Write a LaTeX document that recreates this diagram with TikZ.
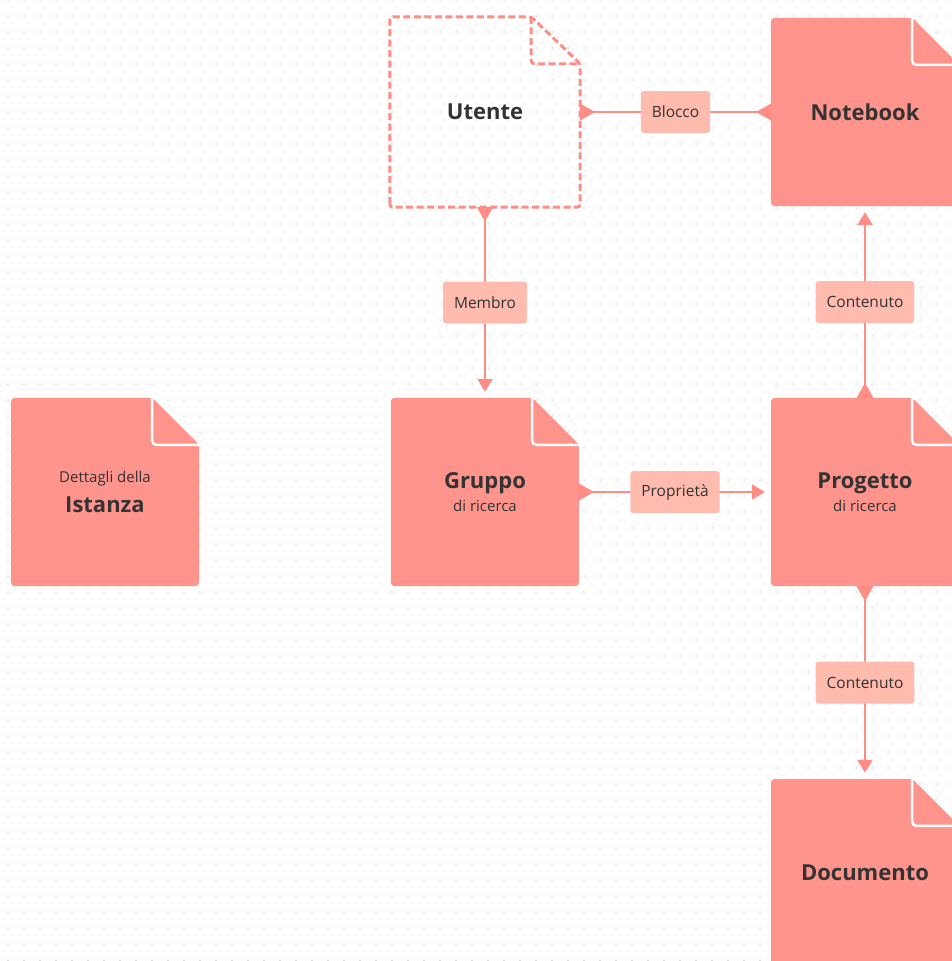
\documentclass[tikz,border=0pt]{standalone}
\usepackage{fontspec}
\setmainfont{Open Sans}
\usetikzlibrary{arrows.meta,calc,backgrounds}

\definecolor{docred}{HTML}{FF948D}
\definecolor{edgered}{HTML}{FF8C85}
\definecolor{lblfill}{HTML}{FFBBAD}
\definecolor{ink}{HTML}{333333}
\definecolor{griddot}{HTML}{CFCFCF}

% text helpers for the page nodes
\newcommand\doctitle[1]{{\bfseries\fontsize{22}{27}\selectfont #1}}
\newcommand\docsub[1]{{\fontsize{15}{17}\selectfont #1}}

% filled page with a folded top-right corner, drawn behind node #1
\newcommand\docpage[1]{%
  \fill[docred, rounded corners=4pt]
    (#1.south west) -- (#1.north west) -- ($(#1.north east)+(-47,0)$)
    -- ($(#1.north east)+(0,47)$) -- (#1.south east) -- cycle;
  \fill[docred, rounded corners=3pt]
    ($(#1.north east)+(-47,0)$) -- ($(#1.north east)+(0,47)$)
    -- ($(#1.north east)+(-47,47)$) -- cycle;
  \draw[white, line width=2.5pt, rounded corners=4pt]
    ($(#1.north east)+(-47,1)$) -- ($(#1.north east)+(-47,47)$)
    -- ($(#1.north east)+(1,47)$);
}

% outlined (dashed) page with a folded corner
\newcommand\docoutline[1]{%
  \draw[edgered, line width=3pt, dash pattern=on 7pt off 3.5pt, rounded corners=3pt]
    (#1.south west) -- (#1.north west) -- ($(#1.north east)+(-49,0)$)
    -- ($(#1.north east)+(0,47)$) -- (#1.south east) -- cycle;
  \draw[edgered, line width=3pt, dash pattern=on 7pt off 3.5pt, rounded corners=3pt]
    ($(#1.north east)+(-49,0)$) -- ($(#1.north east)+(-49,47)$)
    -- ($(#1.north east)+(0,47)$);
}

\begin{document}
\begin{tikzpicture}[x=1pt, y=-1pt,
  doc/.style={minimum width=188pt, minimum height=188pt, inner sep=0pt,
    text=ink, align=center, font=\fontsize{15}{26}\selectfont},
  edge/.style={draw=edgered, line width=2.5pt},
  lbl/.style={fill=lblfill, rounded corners=3pt, text=ink,
    font=\fontsize{15.5}{17}\selectfont, minimum height=42pt, inner xsep=11pt}
]
\useasboundingbox (0,0) rectangle (952,961);
\clip (0,0) rectangle (952,961);

% page nodes
\node[doc, minimum width=190pt, minimum height=190pt] (U) at (485,112) {\doctitle{Utente}};
\node[doc] (N) at (865,112) {\doctitle{Notebook}};
\node[doc] (I) at (105,492) {\docsub{Dettagli della}\\[4pt]\doctitle{Istanza}};
\node[doc] (G) at (485,492) {\doctitle{Gruppo}\\[-3pt]\docsub{di ricerca}};
\node[doc] (P) at (865,492) {\doctitle{Progetto}\\[-3pt]\docsub{di ricerca}};
\node[doc] (D) at (865,873) {\doctitle{Documento}};

\begin{scope}[on background layer]
  % dotted canvas
  \foreach \i in {0,...,59}
    \foreach \j in {0,...,60}
      \fill[griddot] (8+16*\i, 16*\j) circle (1pt);
  \docoutline{U}
  \docpage{N}
  \docpage{I}
  \docpage{G}
  \docpage{P}
  \docpage{D}
\end{scope}

% relations
\draw[edge, {Triangle[reversed, length=14pt, width=16pt]}-{Triangle[length=13pt, width=15pt]}, shorten >=6pt]
  (U.south) -- node[lbl] {Membro} (G.north);
\draw[edge, {Triangle[reversed, length=15pt, width=16pt]}-{Triangle[reversed, length=15pt, width=16pt]}]
  (N.west) -- node[lbl] {Blocco} (U.east);
\draw[edge, {Triangle[reversed, length=15pt, width=16pt]}-{Triangle[length=13pt, width=15pt]}, shorten >=6pt]
  (G.east) -- node[lbl] {Proprietà} (P.west);
\draw[edge, {Triangle[reversed, length=15pt, width=16pt]}-{Triangle[length=13pt, width=15pt]}, shorten >=6pt]
  (P.north) -- node[lbl] {Contenuto} (N.south);
\draw[edge, {Triangle[reversed, length=15pt, width=16pt]}-{Triangle[length=13pt, width=15pt]}, shorten >=6pt]
  (P.south) -- node[lbl] {Contenuto} (D.north);
\end{tikzpicture}
\end{document}
